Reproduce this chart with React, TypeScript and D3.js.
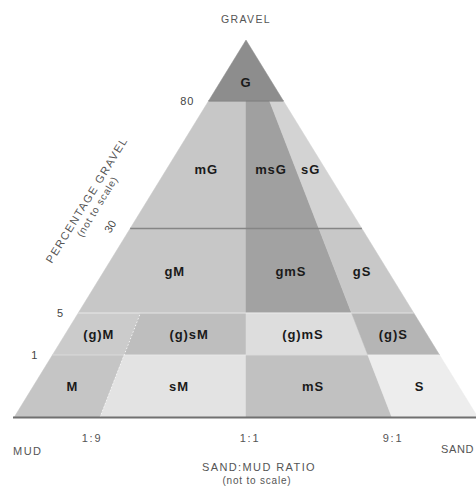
import React from 'react';
import * as d3 from 'd3';

// --- data ---
const gravelLevels = [0, 1, 5, 30, 80, 100];
const gravelTickValues = [80, 30, 5, 1];
const gravelTickLabels = ['80', '30', '5', '1'];
const ratioBreaks = [0, 0.1, 0.5, 0.9, 1];
const ratioTickValues = [0.1, 0.5, 0.9];
const ratioTickLabels = ['1:9', '1:1', '9:1'];

const classNames = ['G', 'mG', 'msG', 'sG', 'gM', 'gmS', 'gS', '(g)M', '(g)sM', '(g)mS', '(g)S', 'M', 'sM', 'mS', 'S'];
const classRatioFrom = [0, 0, 0.5, 0.9, 0, 0.5, 0.9, 0, 0.1, 0.5, 0.9, 0, 0.1, 0.5, 0.9];
const classRatioTo = [1, 0.5, 0.9, 1, 0.5, 0.9, 1, 0.1, 0.5, 0.9, 1, 0.1, 0.5, 0.9, 1];
const classGravelFrom = [80, 30, 30, 30, 5, 5, 5, 1, 1, 1, 1, 0, 0, 0, 0];
const classGravelTo = [100, 80, 80, 80, 30, 30, 30, 5, 5, 5, 5, 1, 1, 1, 1];
const classFill = ['#8d8d8d', '#c7c7c7', '#a0a0a0', '#d3d3d3', '#c7c7c7', '#a2a2a2', '#c8c8c8',
  '#cbcbcb', '#bebebe', '#dddddd', '#b5b5b5', '#c5c5c5', '#e3e3e3', '#c1c1c1', '#ededed'];

// --- geometry (not to scale) ---
const W = 476, H = 490;
const apexX = 246, apexY = 40, baseY = 417.5;
const yS = d3.scaleLinear().domain(gravelLevels).range([baseY, 355, 313, 228.5, 101, apexY]);
const xS = d3.scaleLinear().domain(ratioBreaks).range([14, 100, 246, 392, 478]);

function pt(r: number, g: number): [number, number] {
  const y = yS(g);
  const t = (baseY - y) / (baseY - apexY);
  const xb = xS(r);
  return [xb + (apexX - xb) * t, y];
}
function xAt(r: number, y: number) {
  const t = (baseY - y) / (baseY - apexY);
  const xb = xS(r);
  return xb + (apexX - xb) * t;
}

const font = '"Liberation Sans", Arial, sans-serif';
const edgeAngle = (Math.atan2(-(baseY - apexY), apexX - xS(0)) * 180) / Math.PI;

export default function App() {
  const line = d3.line();
  const regions = classNames.map((name, i) => {
    const r0 = classRatioFrom[i], r1 = classRatioTo[i], g0 = classGravelFrom[i], g1 = classGravelTo[i];
    const poly: [number, number][] = [pt(r0, g0), pt(r1, g0), pt(r1, g1), pt(r0, g1)];
    let lx: number, ly: number;
    const c = d3.polygonCentroid(poly);
    if (g1 === 100) {
      lx = c[0]; ly = c[1] + 2;
    } else {
      const mid = (yS(g0) + yS(g1)) / 2;
      ly = 0.6 * mid + 0.4 * c[1];
      lx = (xAt(r0, ly) + xAt(r1, ly)) / 2;
    }
    return { name, poly, fill: classFill[i], lx, ly };
  });

  const hl = (g: number) => [pt(0, g), pt(1, g)] as [number, number][];

  return (
    <svg width={W} height={H} style={{ position: 'absolute', left: 0, top: 0, background: '#fff' }}>
      {regions.map((r) => (
        <path key={r.name} d={line(r.poly) + 'Z'} fill={r.fill} stroke={r.fill} strokeWidth={0.5} />
      ))}
      {/* boundary lines */}
      <path d={line(hl(80))!} stroke="#7a7a7a" strokeWidth={1.2} fill="none" />
      <path d={line(hl(30))!} stroke="#858585" strokeWidth={1.6} fill="none" />
      <path d={line(hl(5))!} stroke="#f0f0f0" strokeWidth={1} fill="none" opacity={0.8} />
      <path d={line(hl(1))!} stroke="#f0f0f0" strokeWidth={0.8} fill="none" opacity={0.6} />
      <path d={line([pt(0.1, 0), pt(0.1, 5)])!} stroke="#f4f4f4" strokeWidth={1} strokeDasharray="1.5,2" fill="none" />
      <line x1={13} x2={W} y1={baseY} y2={baseY} stroke="#707070" strokeWidth={2} />

      {/* region labels */}
      {regions.map((r) => (
        <text key={'t' + r.name} x={r.lx} y={r.ly} dy="0.35em" textAnchor="middle"
          fontFamily={font} fontWeight="bold" fontSize={13} letterSpacing={0.9} fill="#1a1a1a">{r.name}</text>
      ))}

      {/* gravel ticks */}
      {gravelTickValues.map((g, i) => {
        const y = yS(g);
        const x = xAt(0, y);
        if (g === 30) {
          return (
            <text key={'g' + g} x={0} y={0} textAnchor="middle" dy="0.35em" fontFamily={font} fontSize={11}
              fill="#444" transform={`translate(${x - 20},${y - 2}) rotate(${edgeAngle})`}>{gravelTickLabels[i]}</text>
          );
        }
        return (
          <text key={'g' + g} x={x - 14} y={y + 4} textAnchor="end" fontFamily={font} fontSize={11} letterSpacing={1} fill="#444">
            {gravelTickLabels[i]}
          </text>
        );
      })}

      {/* ratio ticks */}
      {ratioTickValues.map((r, i) => (
        <text key={'r' + r} x={xS(r) + [-8, 4, 1][i]} y={442} textAnchor="middle" fontFamily={font}
          fontSize={11} letterSpacing={1.8} fill="#555">{ratioTickLabels[i]}</text>
      ))}

      {/* axis titles */}
      <text x={apexX} y={23} textAnchor="middle" fontFamily={font} fontSize={10.5} letterSpacing={1.4} fill="#555">GRAVEL</text>
      <text x={13} y={455} fontFamily={font} fontSize={11} letterSpacing={1.5} fill="#555">MUD</text>
      <text x={474} y={453} textAnchor="end" fontFamily={font} fontSize={11} letterSpacing={0.6} fill="#555">SAND</text>
      <text x={259} y={471} textAnchor="middle" fontFamily={font} fontSize={11} letterSpacing={1.4} fill="#555">SAND:MUD RATIO</text>
      <text x={257} y={484} textAnchor="middle" fontFamily={font} fontSize={10} letterSpacing={0.8} fill="#555">(not to scale)</text>
      <g transform={`translate(90,202) rotate(${edgeAngle})`}>
        <text x={0} y={0} textAnchor="middle" fontFamily={font} fontSize={11} letterSpacing={1.4} fill="#555">PERCENTAGE GRAVEL</text>
        <text x={0} y={12} textAnchor="middle" fontFamily={font} fontSize={10} letterSpacing={0.8} fill="#555">(not to scale)</text>
      </g>
    </svg>
  );
}
